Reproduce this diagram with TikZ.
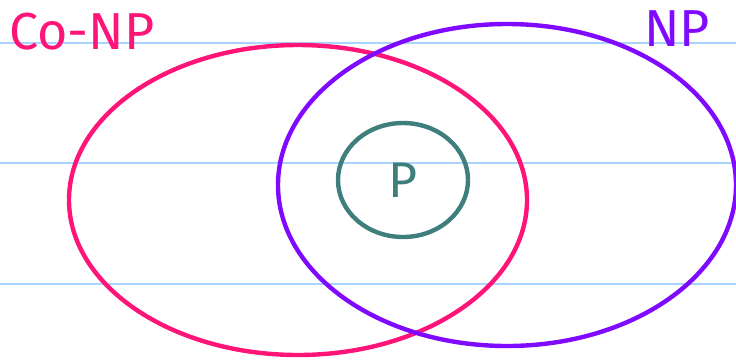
\documentclass[tikz,border=0pt]{standalone}
\usepackage{fontspec}
\setmainfont{Fira Sans}
\usetikzlibrary{positioning, shapes.geometric}
\definecolor{conppink}{RGB}{255, 20, 120}
\definecolor{nppurple}{RGB}{128, 10, 255}
\definecolor{pteal}{RGB}{62, 126, 124}
\definecolor{ruleblue}{RGB}{168, 212, 255}

\begin{document}
\begin{tikzpicture}[
    x=1pt, y=-1pt,
    rule/.style={draw=ruleblue, line width=1.6pt},
    classset/.style={ellipse, line width=4.4pt, inner sep=0pt},
    classlabel/.style={font=\fontsize{52}{56}\selectfont, inner sep=0pt}
]

    % Page frame
    \useasboundingbox (0,0) rectangle (736,360);

    % Notebook rules
    \foreach \ry [count=\ri] in {43,163,284} {
        \coordinate (rl\ri) at (0,\ry);
        \coordinate (rr\ri) at (736,\ry);
        \draw [rule] (rl\ri) -- (rr\ri);
    }

    % Complexity classes
    \node (conp) [classset, draw=conppink, minimum width=458pt, minimum height=310pt] at (298,200) {};
    \node (np) [classset, draw=nppurple, minimum width=458pt, minimum height=322pt] at (507,185) {};
    \node (p) [classset, draw=pteal, minimum width=130pt, minimum height=114pt, font=\fontsize{50}{54}\selectfont, text=pteal] at (403,180) {P};

    % Labels
    \node (conplbl) [classlabel, text=conppink] at (82,32) {Co-NP};
    \node (nplbl) [classlabel, text=nppurple] at (677,29) {NP};

\end{tikzpicture}
\end{document}
